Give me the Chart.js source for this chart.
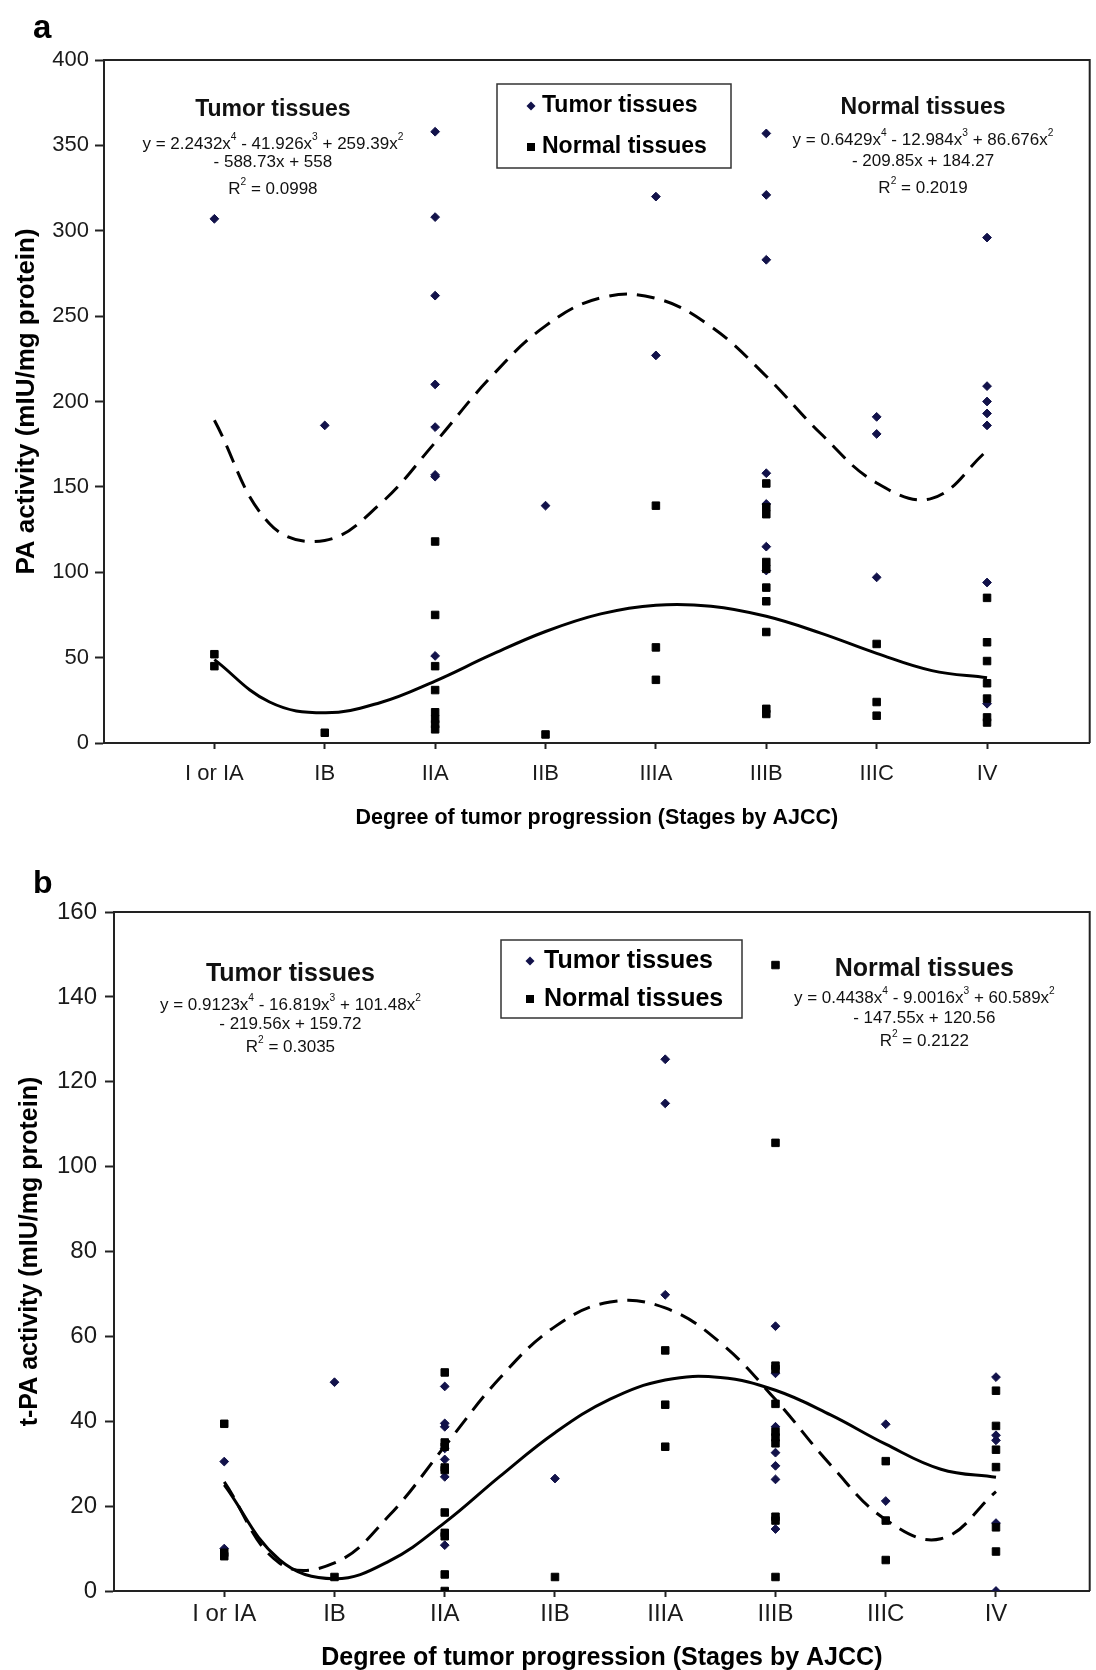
<!DOCTYPE html>
<html lang="en">
<head>
  <meta charset="UTF-8">
  <title>PA and t-PA activity by tumor stage</title>
  <script src="https://cdn.jsdelivr.net/npm/chart.js"></script>
  <style>
    html, body {
      margin: 0;
      padding: 0;
      background: #fff;
    }
    body {
      width: 1096px;
      height: 1670px;
      overflow: hidden;
      position: relative;
      font-family: 'Liberation Sans', Arial, sans-serif;
    }
    .panel {
      position: absolute;
      left: 0;
      width: 1096px;
    }
    .tag {
      position: absolute;
      left: 33px;
      font-weight: bold;
      line-height: 1;
      color: #000;
    }
  </style>
</head>
<body>

  <div class="panel" style="top:0;height:850px">
    <canvas id="chartA" width="1096" height="850"></canvas>
  </div>
  <div class="panel" style="top:850px;height:820px">
    <canvas id="chartB" width="1096" height="820"></canvas>
  </div>
  <div class="tag" style="top:10px;font-size:33px">a</div>
  <div class="tag" style="top:866px;font-size:32px">b</div>

  <script>
    const stages = ['I or IA', 'IB', 'IIA', 'IIB', 'IIIA', 'IIIB', 'IIIC', 'IV'];

    // panel a: PA activity, one list of values per stage
    const paTumor = [
      [307], [186], [358, 308, 262, 210, 185, 157, 156, 51], [139],
      [320, 227], [357, 321, 283, 158, 140, 115, 101], [191, 181, 97],
      [296, 209, 200, 193, 186, 94, 23]
    ];
    const paNormal = [
      [52, 45], [6], [118, 75, 45, 31, 18, 14, 11, 8], [5],
      [139, 56, 37], [152, 138, 134, 106, 102, 91, 83, 65, 20, 17], [58, 24, 16],
      [85, 59, 48, 35, 26, 15, 12]
    ];

    // panel b: t-PA activity
    const tpaTumor = [
      [30.5, 10], [49.2], [48.2, 39.5, 38.7, 33.6, 31, 26.9, 10.8], [26.5],
      [125.3, 114.9, 69.8], [62.4, 51.3, 38.7, 32.6, 29.5, 26.3, 14.6], [39.3, 21.2],
      [50.4, 36.7, 35.5, 16, 0]
    ];
    const tpaNormal = [
      [39.4, 9, 8.2], [3.3], [51.5, 35, 34, 29.1, 28.5, 18.5, 13.7, 12.9, 3.9, 0], [3.3],
      [56.7, 43.9, 34], [147.5, 105.6, 53.1, 52.3, 44.1, 37.5, 36.2, 34.8, 17.5, 16.6, 3.3],
      [30.6, 16.6, 7.3], [47.2, 38.9, 33.3, 29.2, 15, 9.3]
    ];

    // trend lines at every half stage
    const trendX = [1, 1.5, 2, 2.5, 3, 3.5, 4, 4.5, 5, 5.5, 6, 6.5, 7, 7.5, 8];
    const paTumorTrend = [189.0, 128.4, 118.6, 139.9, 176.0, 214.0, 244.3, 260.7, 260.4, 243.8, 214.8, 180.8, 152.3, 143.3, 171.2];
    const paNormalTrend = [48.8, 24.0, 17.7, 23.6, 36.3, 51.4, 65.3, 75.6, 80.7, 80.1, 74.2, 64.2, 52.5, 42.4, 38.2];
    const tpaTumorTrend = [25.7, 6.6, 6.6, 17.9, 34.1, 50.2, 62.3, 68.1, 66.7, 58.5, 45.1, 29.7, 16.8, 12.3, 23.4];
    const tpaNormalTrend = [25.0, 7.4, 2.9, 7.1, 16.1, 27.0, 37.3, 45.2, 49.7, 50.3, 47.3, 41.5, 34.6, 28.7, 26.8];

    const FONT = "'Liberation Sans', Arial, sans-serif";
    Chart.defaults.font.family = FONT;
    Chart.defaults.color = '#1a1a1a';

    function pts(groups) {
      return groups.flatMap((vals, i) => vals.map(v => ({ x: i + 1, y: v })));
    }
    function curve(vals) {
      return vals.map((v, i) => ({ x: trendX[i], y: v }));
    }

    // text with ^n superscripts, centred on (cx, cy)
    function drawRich(ctx, text, cx, cy, size, bold) {
      const parts = text.split(/\^(\d)/);
      const f = s => (bold ? 'bold ' : '') + s + 'px ' + FONT;
      let w = 0;
      parts.forEach((p, i) => {
        ctx.font = f(i % 2 ? size * 0.6 : size);
        w += ctx.measureText(p).width;
      });
      let px = cx - w / 2;
      parts.forEach((p, i) => {
        const sup = i % 2 === 1;
        ctx.font = f(sup ? size * 0.6 : size);
        ctx.fillText(p, px, sup ? cy - size * 0.38 : cy);
        px += ctx.measureText(p).width;
      });
    }

    const framePlugin = {
      id: 'frame',
      beforeDatasetsDraw(chart, args, o) {
        const { ctx, chartArea: a } = chart;
        ctx.save();
        ctx.strokeStyle = o.color;
        ctx.lineWidth = o.width;
        ctx.beginPath();
        ctx.moveTo(a.left, a.top);
        ctx.lineTo(a.right, a.top);
        ctx.lineTo(a.right, a.bottom);
        ctx.stroke();
        ctx.restore();
      }
    };

    const notesPlugin = {
      id: 'notes',
      afterDatasetsDraw(chart, args, o) {
        const { ctx, scales: { x, y } } = chart;
        ctx.save();
        ctx.fillStyle = o.color;
        ctx.textAlign = 'left';
        ctx.textBaseline = 'middle';
        o.items.forEach(it => {
          drawRich(ctx, it.text, x.getPixelForValue(it.x), y.getPixelForValue(it.y), it.size, it.bold);
        });
        ctx.restore();
      }
    };

    const boxLegendPlugin = {
      id: 'boxLegend',
      afterDatasetsDraw(chart, args, o) {
        const { ctx, chartArea: a } = chart;
        const bx = a.left + o.left, by = a.top + o.top;
        ctx.save();
        ctx.fillStyle = '#fff';
        ctx.fillRect(bx, by, o.width, o.height);
        ctx.strokeStyle = '#333';
        ctx.lineWidth = 1.5;
        ctx.strokeRect(bx, by, o.width, o.height);
        ctx.font = 'bold ' + o.size + 'px ' + FONT;
        ctx.textBaseline = 'middle';
        ctx.textAlign = 'left';
        chart.data.datasets.filter(d => d.inLegend).forEach((d, i) => {
          const ry = by + o.rows[i];
          const mx = bx + o.markerX;
          ctx.fillStyle = d.backgroundColor;
          ctx.beginPath();
          if (d.pointStyle === 'rectRot') {
            ctx.moveTo(mx, ry - 4.5);
            ctx.lineTo(mx + 4.5, ry);
            ctx.lineTo(mx, ry + 4.5);
            ctx.lineTo(mx - 4.5, ry);
            ctx.closePath();
          } else {
            ctx.rect(mx - 4, ry - 4, 8, 8);
          }
          ctx.fill();
          ctx.fillStyle = '#000';
          ctx.fillText(d.label, bx + o.textX, ry);
        });
        ctx.restore();
      }
    };

    function makeChart(id, cfg) {
      const tickFont = { size: cfg.tickSize };
      return new Chart(document.getElementById(id), {
        type: 'scatter',
        data: {
          datasets: [
            {
              label: 'Tumor tissues', data: pts(cfg.tumor), inLegend: true,
              pointStyle: 'rectRot', pointRadius: 4.4, backgroundColor: '#12124a',
              borderColor: '#12124a', borderWidth: 1, order: 3
            },
            {
              label: 'Normal tissues', data: pts(cfg.normal), inLegend: true,
              pointStyle: 'rect', pointRadius: 5.3, backgroundColor: '#000',
              borderColor: '#000', borderWidth: 1, order: 2
            },
            {
              label: 'Tumor tissues trend', data: curve(cfg.tumorTrend), showLine: true,
              borderColor: '#000', borderWidth: 3, borderDash: [18, 10], pointRadius: 0,
              tension: 0.4, order: 1
            },
            {
              label: 'Normal tissues trend', data: curve(cfg.normalTrend), showLine: true,
              borderColor: '#000', borderWidth: 3, pointRadius: 0, tension: 0.4, order: 0
            }
          ]
        },
        options: {
          responsive: false,
          devicePixelRatio: 1,
          animation: false,
          events: [],
          layout: { padding: { top: cfg.padTop, right: 1, left: 0, bottom: 0 } },
          scales: {
            x: {
              type: 'linear', min: 0, max: cfg.xMax,
              afterBuildTicks: s => { s.ticks = stages.map((_, i) => ({ value: i + 1 })); },
              afterFit: s => { s.height = cfg.xHeight; },
              ticks: {
                callback: v => stages[v - 1], font: tickFont, color: '#1a1a1a',
                padding: cfg.xTickPad, autoSkip: false, maxRotation: 0
              },
              grid: { drawOnChartArea: false, tickLength: 6, tickColor: '#222', tickWidth: 2 },
              border: { color: '#222', width: 2 },
              title: {
                display: true, text: 'Degree of tumor progression (Stages by AJCC)', color: '#000',
                font: { size: cfg.xTitleSize, weight: 'bold' }, padding: { top: 0, bottom: cfg.xTitlePad }
              }
            },
            y: {
              min: 0, max: cfg.yMax,
              afterFit: s => { s.width = cfg.yWidth; },
              ticks: { stepSize: cfg.yStep, font: tickFont, color: '#1a1a1a', padding: cfg.yTickPad },
              grid: { drawOnChartArea: false, tickLength: 9, tickColor: '#222', tickWidth: 2 },
              border: { color: '#222', width: 2 },
              title: {
                display: true, text: cfg.yTitle, color: '#000',
                font: { size: cfg.yTitleSize, weight: 'bold' }, padding: { top: cfg.yTitlePad, bottom: 0 }
              }
            }
          },
          plugins: {
            legend: { display: false },
            tooltip: { enabled: false },
            frame: { color: '#222', width: 2 },
            notes: { color: '#111', items: cfg.notes },
            boxLegend: cfg.legend
          }
        },
        plugins: [framePlugin, notesPlugin, boxLegendPlugin]
      });
    }

    makeChart('chartA', {
      tumor: paTumor, normal: paNormal, tumorTrend: paTumorTrend, normalTrend: paNormalTrend,
      yMax: 400, yStep: 50, xMax: 8.93, yTitle: 'PA activity (mIU/mg protein)',
      padTop: 60, xHeight: 107, yWidth: 104, tickSize: 22, xTickPad: 12, yTickPad: 6,
      xTitleSize: 21.5, xTitlePad: 19, yTitleSize: 26, yTitlePad: 11,
      legend: { left: 393, top: 24, width: 234, height: 84, rows: [22, 63], markerX: 34, textX: 45, size: 23 },
      notes: [
        { x: 1.53, y: 370.7, text: 'Tumor tissues', size: 23, bold: true },
        { x: 1.53, y: 350.8, text: 'y = 2.2432x^4 - 41.926x^3 + 259.39x^2', size: 17 },
        { x: 1.53, y: 340.3, text: '- 588.73x + 558', size: 17 },
        { x: 1.53, y: 324.5, text: 'R^2 = 0.0998', size: 17 },
        { x: 7.42, y: 371.9, text: 'Normal tissues', size: 23, bold: true },
        { x: 7.42, y: 353.2, text: 'y = 0.6429x^4 - 12.984x^3 + 86.676x^2', size: 17 },
        { x: 7.42, y: 340.9, text: '- 209.85x + 184.27', size: 17 },
        { x: 7.42, y: 325.0, text: 'R^2 = 0.2019', size: 17 }
      ]
    });

    makeChart('chartB', {
      tumor: tpaTumor, normal: tpaNormal, tumorTrend: tpaTumorTrend, normalTrend: tpaNormalTrend,
      yMax: 160, yStep: 20, xMax: 8.85, yTitle: 't-PA activity (mIU/mg protein)',
      padTop: 62, xHeight: 79, yWidth: 114, tickSize: 24, xTickPad: 3, yTickPad: 8,
      xTitleSize: 25, xTitlePad: -3, yTitleSize: 25, yTitlePad: 15,
      legend: { left: 387, top: 28, width: 241, height: 78, rows: [21, 59], markerX: 29, textX: 43, size: 25 },
      notes: [
        { x: 1.6, y: 145.4, text: 'Tumor tissues', size: 25, bold: true },
        { x: 1.6, y: 138.1, text: 'y = 0.9123x^4 - 16.819x^3 + 101.48x^2', size: 17 },
        { x: 1.6, y: 133.6, text: '- 219.56x + 159.72', size: 17 },
        { x: 1.6, y: 128.2, text: 'R^2 = 0.3035', size: 17 },
        { x: 7.35, y: 146.6, text: 'Normal tissues', size: 25, bold: true },
        { x: 7.35, y: 139.7, text: 'y = 0.4438x^4 - 9.0016x^3 + 60.589x^2', size: 17 },
        { x: 7.35, y: 135.0, text: '- 147.55x + 120.56', size: 17 },
        { x: 7.35, y: 129.6, text: 'R^2 = 0.2122', size: 17 }
      ]
    });
  </script>

</body>
</html>
